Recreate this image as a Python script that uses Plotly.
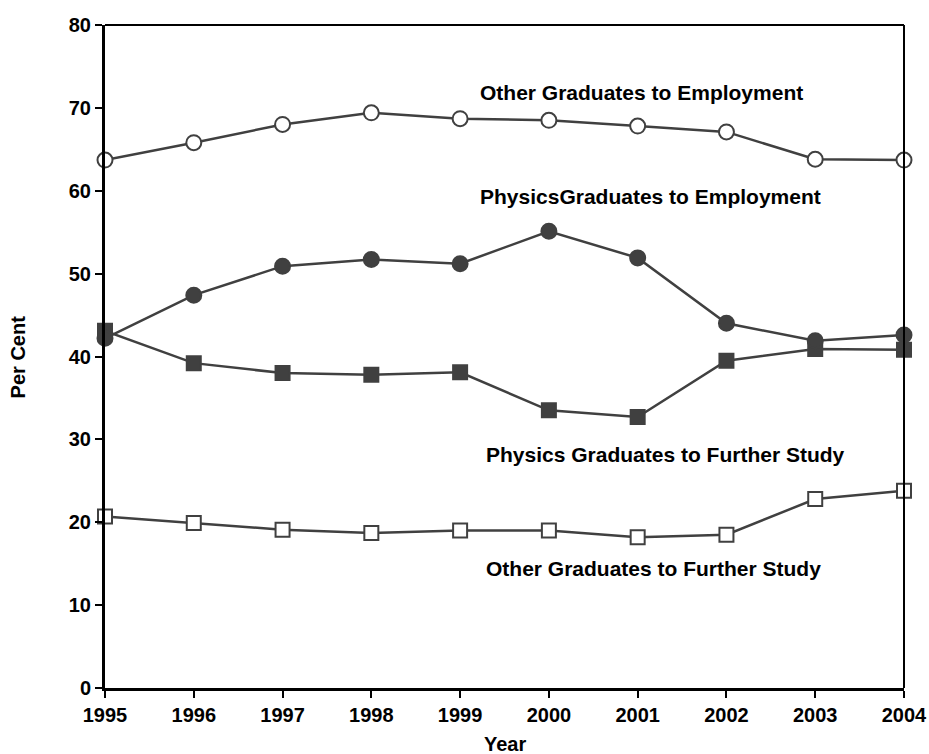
import plotly.graph_objects as go

years = [1995, 1996, 1997, 1998, 1999, 2000, 2001, 2002, 2003, 2004]
other_emp = [63.7, 65.8, 68.0, 69.4, 68.7, 68.5, 67.8, 67.1, 63.8, 63.7]
phys_emp = [42.2, 47.4, 50.9, 51.7, 51.2, 55.1, 51.9, 44.0, 41.9, 42.6]
phys_study = [43.1, 39.2, 38.0, 37.8, 38.1, 33.5, 32.7, 39.5, 40.9, 40.8]
other_study = [20.7, 19.9, 19.1, 18.7, 19.0, 19.0, 18.2, 18.5, 22.8, 23.8]

labels = ["Other Graduates to Employment", "PhysicsGraduates to Employment",
          "Physics Graduates to Further Study", "Other Graduates to Further Study"]
label_x = [1999.2, 1999.2, 1999.27, 1999.27]
label_y = [71.8, 59.3, 28.2, 14.4]

col = "#404040"
font = "Liberation Sans, Arial, sans-serif"

fig = go.Figure()

def add(y, symbol, filled):
    fig.add_trace(go.Scatter(
        x=years, y=y, mode="lines+markers", cliponaxis=False,
        line=dict(color=col, width=2.5),
        marker=dict(symbol=symbol, size=15 if symbol == "circle" else 14,
                    color=col if filled else "white",
                    line=dict(color=col, width=2)),
        showlegend=False))

add(other_study, "square", False)
add(phys_study, "square", True)
add(phys_emp, "circle", True)
add(other_emp, "circle", False)

for t, x, y in zip(labels, label_x, label_y):
    fig.add_annotation(x=x, y=y, text="<b>%s</b>" % t, showarrow=False,
                       xanchor="left", yanchor="middle",
                       font=dict(family=font, size=21, color="black"))

# axis titles
fig.add_annotation(xref="paper", yref="paper", x=-0.109, y=0.5, text="<b>Per Cent</b>",
                   textangle=-90, showarrow=False, xanchor="center", yanchor="middle",
                   font=dict(family=font, size=20, color="black"))
fig.add_annotation(xref="paper", yref="paper", x=0.5, y=-0.085, text="<b>Year</b>",
                   showarrow=False, xanchor="center", yanchor="middle",
                   font=dict(family=font, size=20, color="black"))

fig.add_shape(type="line", xref="paper", yref="paper", x0=0, x1=1, y0=1, y1=1,
              line=dict(color="black", width=2))
fig.add_shape(type="line", xref="paper", yref="paper", x0=1, x1=1, y0=0, y1=1,
              line=dict(color="black", width=2))

fig.update_layout(
    width=929, height=754,
    margin=dict(l=105, r=25, t=25, b=66),
    paper_bgcolor="white", plot_bgcolor="white",
    font=dict(family=font, size=20, color="black"),
    xaxis=dict(range=[1995, 2004], tickmode="array", tickvals=years,
               ticktext=["<b>%d</b>" % y for y in years], automargin=False,
               showgrid=False, zeroline=False, showline=True, linecolor="black",
               linewidth=3, ticks="outside", ticklen=7, tickwidth=2, tickcolor="black"),
    yaxis=dict(range=[0, 80], tickvals=list(range(0, 81, 10)),
               ticktext=["<b>%d</b>" % v for v in range(0, 81, 10)], automargin=False,
               showgrid=False, zeroline=False, showline=True, linecolor="black",
               linewidth=3, ticks="outside", ticklen=7, tickwidth=2, tickcolor="black"),
)

fig.write_html(
    "out.html",
    config={"displayModeBar": False},
    post_script=("document.body.style.margin='0';"
                 "document.body.style.overflow='hidden';"
                 "document.documentElement.style.overflow='hidden';"),
)
